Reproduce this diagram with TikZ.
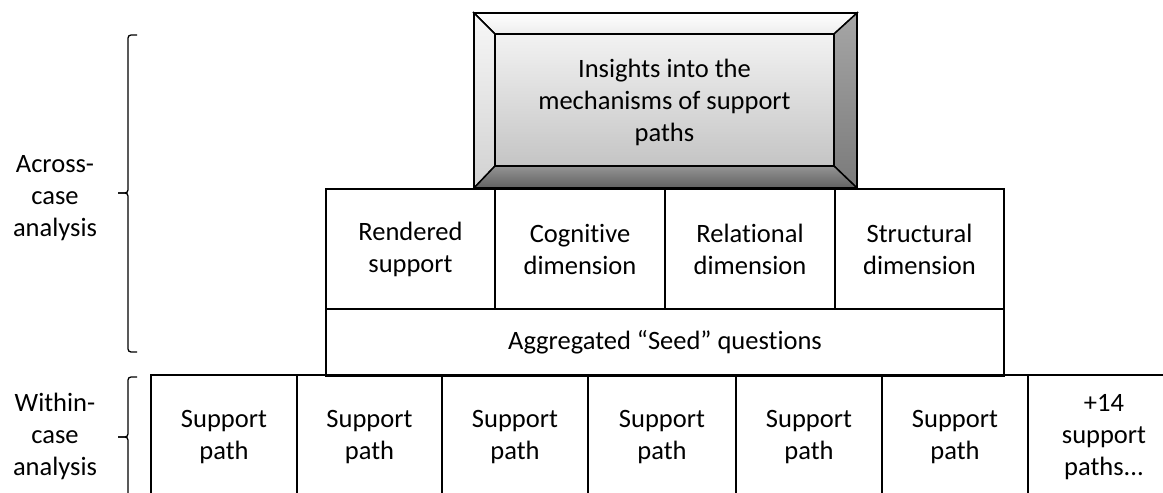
\documentclass[tikz,border=0pt]{standalone}
\usepackage{fontspec}
\setmainfont{Carlito}[Ligatures={NoCommon}]
\begin{document}
\begin{tikzpicture}[x=1pt,y=-1pt,
  every node/.style={font=\fontsize{26.5}{32}\selectfont, align=center, inner sep=0pt},
  cell/.style={draw=black, line width=2pt, rectangle},
  brace/.style={draw=black, line width=1.3pt},
  face/.style={draw=black, line width=1.5pt}]
\useasboundingbox (0,0) rectangle (1163,493);
% bevel box
\shade[face, top color=white, bottom color=white!93!black] (474,13) -- (857,13) -- (834,34) -- (495,34) -- cycle;
\shade[face, top color=white!97!black, bottom color=white!82!black] (474,13) -- (495,34) -- (495,166) -- (474,188) -- cycle;
\shade[face, top color=white!65!black, bottom color=white!48!black] (857,13) -- (857,188) -- (834,166) -- (834,34) -- cycle;
\shade[face, top color=white!58!black, bottom color=white!38!black] (474,188) -- (495,166) -- (834,166) -- (857,188) -- cycle;
\shade[face, top color=white!95!black, bottom color=white!77!black] (495,34) rectangle (834,166);
\draw[line width=2pt] (474,13) rectangle (857,188);
\node (insight) at (664.5,102) {Insights into the\\mechanisms of support\\paths};
% middle row
\node[cell, minimum width=169pt, minimum height=120pt] (rendered) at (410.5,249) {Rendered\\support};
\node[cell, minimum width=170pt, minimum height=120pt] (cognitive) at (580,249) {Cognitive\\dimension};
\node[cell, minimum width=170pt, minimum height=120pt] (relational) at (750,249) {Relational\\dimension};
\node[cell, minimum width=169pt, minimum height=120pt] (structural) at (919.5,249) {Structural\\dimension};
\node[cell, minimum width=678pt, minimum height=67pt] (seed) at (665,342.5) {Aggregated “Seed” questions};
% bottom row
\node[cell, minimum width=146pt, minimum height=125pt] (p1) at (224,437.5) {Support\\path};
\node[cell, minimum width=145pt, minimum height=125pt] (p2) at (369.5,437.5) {Support\\path};
\node[cell, minimum width=146pt, minimum height=125pt] (p3) at (515,437.5) {Support\\path};
\node[cell, minimum width=148pt, minimum height=125pt] (p4) at (662,437.5) {Support\\path};
\node[cell, minimum width=146pt, minimum height=125pt] (p5) at (809,437.5) {Support\\path};
\node[cell, minimum width=146pt, minimum height=125pt] (p6) at (955,437.5) {Support\\path};
\node[cell, minimum width=152pt, minimum height=125pt] (p7) at (1104,437.5) {+14\\support\\paths...};
% left labels
\node (across) at (55,198) {Across-\\case\\analysis};
\node (within) at (55,436) {Within-\\case\\analysis};
% braces
\draw[brace, rounded corners=3pt] (137,35) -- (128,35) -- (128,193) -- (118,193);
\draw[brace, rounded corners=3pt] (118,193) -- (128,193) -- (128,352) -- (137,352);
\draw[brace, rounded corners=3pt] (137,377) -- (128,377) -- (128,437) -- (118,437);
\draw[brace, rounded corners=3pt] (118,437) -- (128,437) -- (128,500);
\end{tikzpicture}
\end{document}
